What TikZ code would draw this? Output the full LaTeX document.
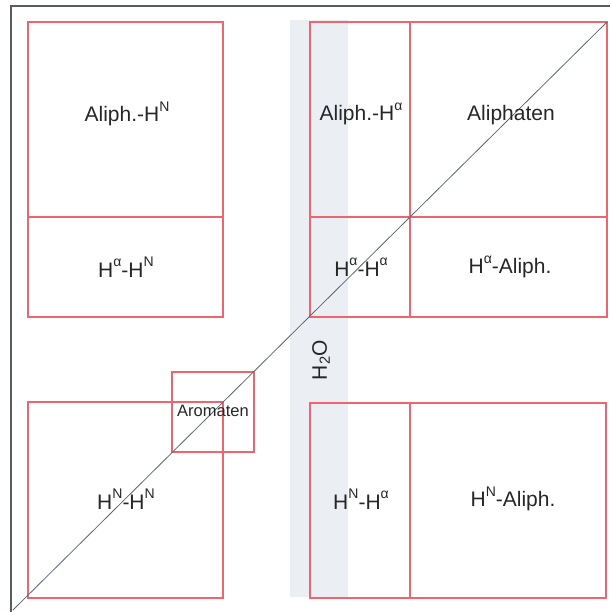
\documentclass[tikz,border=0pt]{standalone}
\usepackage{fontspec}
\setmainfont{Liberation Sans}
\newcommand{\hsup}[1]{\raisebox{0.5em}{\fontsize{14}{16}\selectfont #1}}
\begin{document}
\begin{tikzpicture}[x=1pt,y=-1pt,
  redbox/.style={draw=boxred,line width=1.1pt},
  lbl/.style={font=\fontsize{21}{24}\selectfont,text=black!85,inner sep=0pt},
  small/.style={font=\fontsize{16.5}{19}\selectfont,text=black!85,inner sep=0pt}]
\definecolor{boxred}{HTML}{F0646F}
\definecolor{band}{HTML}{EBEFF4}
\definecolor{frame}{HTML}{555C64}
\definecolor{diag}{HTML}{5E6670}
\useasboundingbox (0,0) rectangle (610,612);
% water band
\fill[band] (290,20) rectangle (348,597);
% frame
\coordinate (fbl) at (11,612);
\coordinate (ftl) at (11,6);
\coordinate (ftr) at (610,6);
\draw[frame,line width=1.3pt] (fbl) -- (ftl) -- (ftr);
% top-left block
\draw[redbox] (28,22) rectangle (223,317);
\draw[redbox] (28,217) -- (223,217);
% top-right block
\draw[redbox] (310,22) rectangle (607,317);
\draw[redbox] (310,217) -- (607,217);
\draw[redbox] (410,22) -- (410,317);
% bottom-left block
\draw[redbox] (28,402) rectangle (223,598);
% bottom-right block
\draw[redbox] (310,403) rectangle (606,598);
\draw[redbox] (410,403) -- (410,598);
% aromatics
\draw[redbox] (172,372) rectangle (254,452);
% diagonal
\coordinate (d0) at (13,610);
\coordinate (d1) at (607,22);
\draw[diag,line width=0.8pt] (d0) -- (d1);
% labels
\node[lbl] (l1) at (127,114) {Aliph.-H\hsup{N}};
\node[lbl] (l2) at (126,267) {H\hsup{α}-H\hsup{N}};
\node[lbl] (l3) at (361,114) {Aliph.-H\hsup{α}};
\node[lbl] (l4) at (511,115) {Aliphaten};
\node[lbl] (l5) at (361,267) {H\hsup{α}-H\hsup{α}};
\node[lbl] (l6) at (510,267) {H\hsup{α}-Aliph.};
\node[lbl,rotate=90] (l7) at (321,360) {H\textsubscript{2}O};
\node[small] (l8) at (213,411) {Aromaten};
\node[lbl] (l9) at (126,499) {H\hsup{N}-H\hsup{N}};
\node[lbl] (l10) at (361,499) {H\hsup{N}-H\hsup{α}};
\node[lbl] (l11) at (513,499) {H\hsup{N}-Aliph.};
\end{tikzpicture}
\end{document}
